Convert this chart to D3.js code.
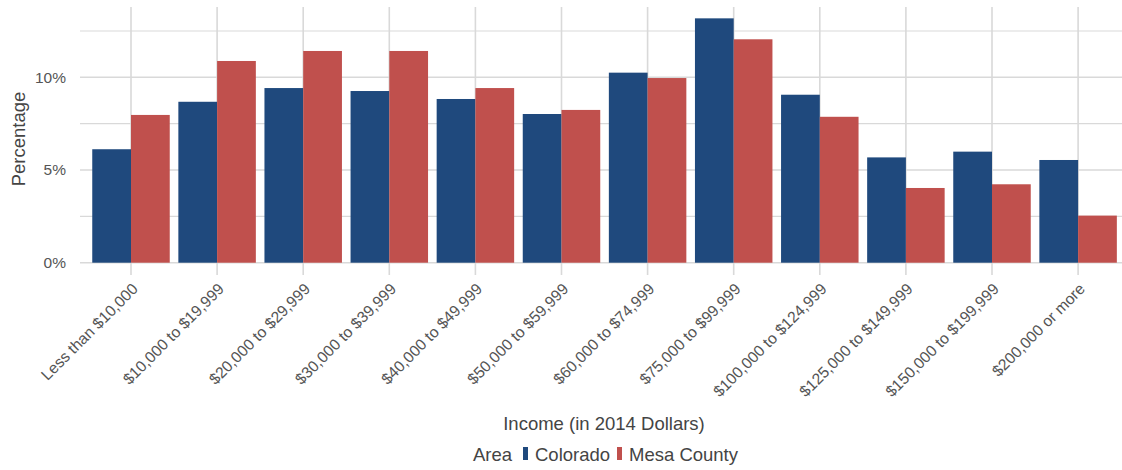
<!DOCTYPE html>
<html><head><meta charset="utf-8">
<script src="https://cdn.jsdelivr.net/npm/d3@7"></script>
<style>body{margin:0;background:#fff;} text{font-family:"Liberation Sans",Arial,sans-serif;}</style>
</head><body><svg id="c" width="1122" height="470"></svg>
<script>
const categories = ["Less than $10,000","$10,000 to $19,999","$20,000 to $29,999","$30,000 to $39,999","$40,000 to $49,999","$50,000 to $59,999","$60,000 to $74,999","$75,000 to $99,999","$100,000 to $124,999","$125,000 to $149,999","$150,000 to $199,999","$200,000 or more"];
const colorado = [6.12, 8.68, 9.42, 9.26, 8.83, 8.02, 10.25, 13.18, 9.06, 5.68, 5.99, 5.54];
const mesa =     [7.97, 10.88, 11.42, 11.42, 9.42, 8.24, 9.96, 12.05, 7.87, 4.03, 4.23, 2.54];
const seriesNames = ["Colorado","Mesa County"];
const colors = ["#1f497d","#c0504d"];
const yTicks = [0,5,10];
const yMinor = [2.5,7.5,12.5];

const svg = d3.select("#c");
const step = 86.1;
const first = 131;
const xc = d3.scalePoint().domain(categories).range([first, first + step*11]);
const y = d3.scaleLinear().domain([0, 10]).range([262.7, 77.3]);
const bw = step*0.9/2;
const grid = "#d9d9d9";
const g = svg.append("g");
yMinor.forEach(v=>g.append("line").attr("x1",80).attr("x2",1122).attr("y1",y(v)).attr("y2",y(v)).attr("stroke",grid).attr("stroke-width",1.1));
yTicks.forEach(v=>g.append("line").attr("x1",80).attr("x2",1122).attr("y1",y(v)).attr("y2",y(v)).attr("stroke",grid).attr("stroke-width",1.6));
categories.forEach(c=>g.append("line").attr("x1",xc(c)).attr("x2",xc(c)).attr("y1",7).attr("y2",275).attr("stroke",grid).attr("stroke-width",1.6));
[colorado, mesa].forEach((vals,si)=>{
  g.selectAll(null).data(categories).enter().append("rect")
    .attr("x",(c)=>xc(c) - bw + si*bw)
    .attr("width",bw)
    .attr("y",(c,i)=>y(vals[i]))
    .attr("height",(c,i)=>y(0)-y(vals[i]))
    .attr("fill",colors[si]);
});
yTicks.forEach(v=>svg.append("text").attr("x",66).attr("y",y(v)).attr("dy","0.35em").attr("text-anchor","end")
  .attr("font-size",15.5).attr("fill","#555").text(v+"%"));
svg.append("text").attr("transform","translate(25,139) rotate(-90)").attr("text-anchor","middle")
  .attr("font-size",18.5).attr("fill","#444").text("Percentage");
categories.forEach(c=>svg.append("text").attr("transform",`translate(${xc(c)+4},${286}) rotate(-45)`)
  .attr("text-anchor","end").attr("dy","0.35em").attr("font-size",15.7).attr("fill","#555").text(c));
svg.append("text").attr("x",604).attr("y",430).attr("text-anchor","middle").attr("font-size",18.5).attr("fill","#444").text("Income (in 2014 Dollars)");
const ly = 461;
svg.append("text").attr("x",473).attr("y",ly).attr("font-size",18.5).attr("fill","#444").text("Area");
const legX = [523, 617];
seriesNames.forEach((n,i)=>{
  svg.append("rect").attr("x",legX[i]).attr("y",447).attr("width",5).attr("height",13).attr("fill",colors[i]);
  svg.append("text").attr("x",legX[i]+12).attr("y",ly).attr("font-size",18.5).attr("fill","#444").text(n);
});
</script></body></html>
